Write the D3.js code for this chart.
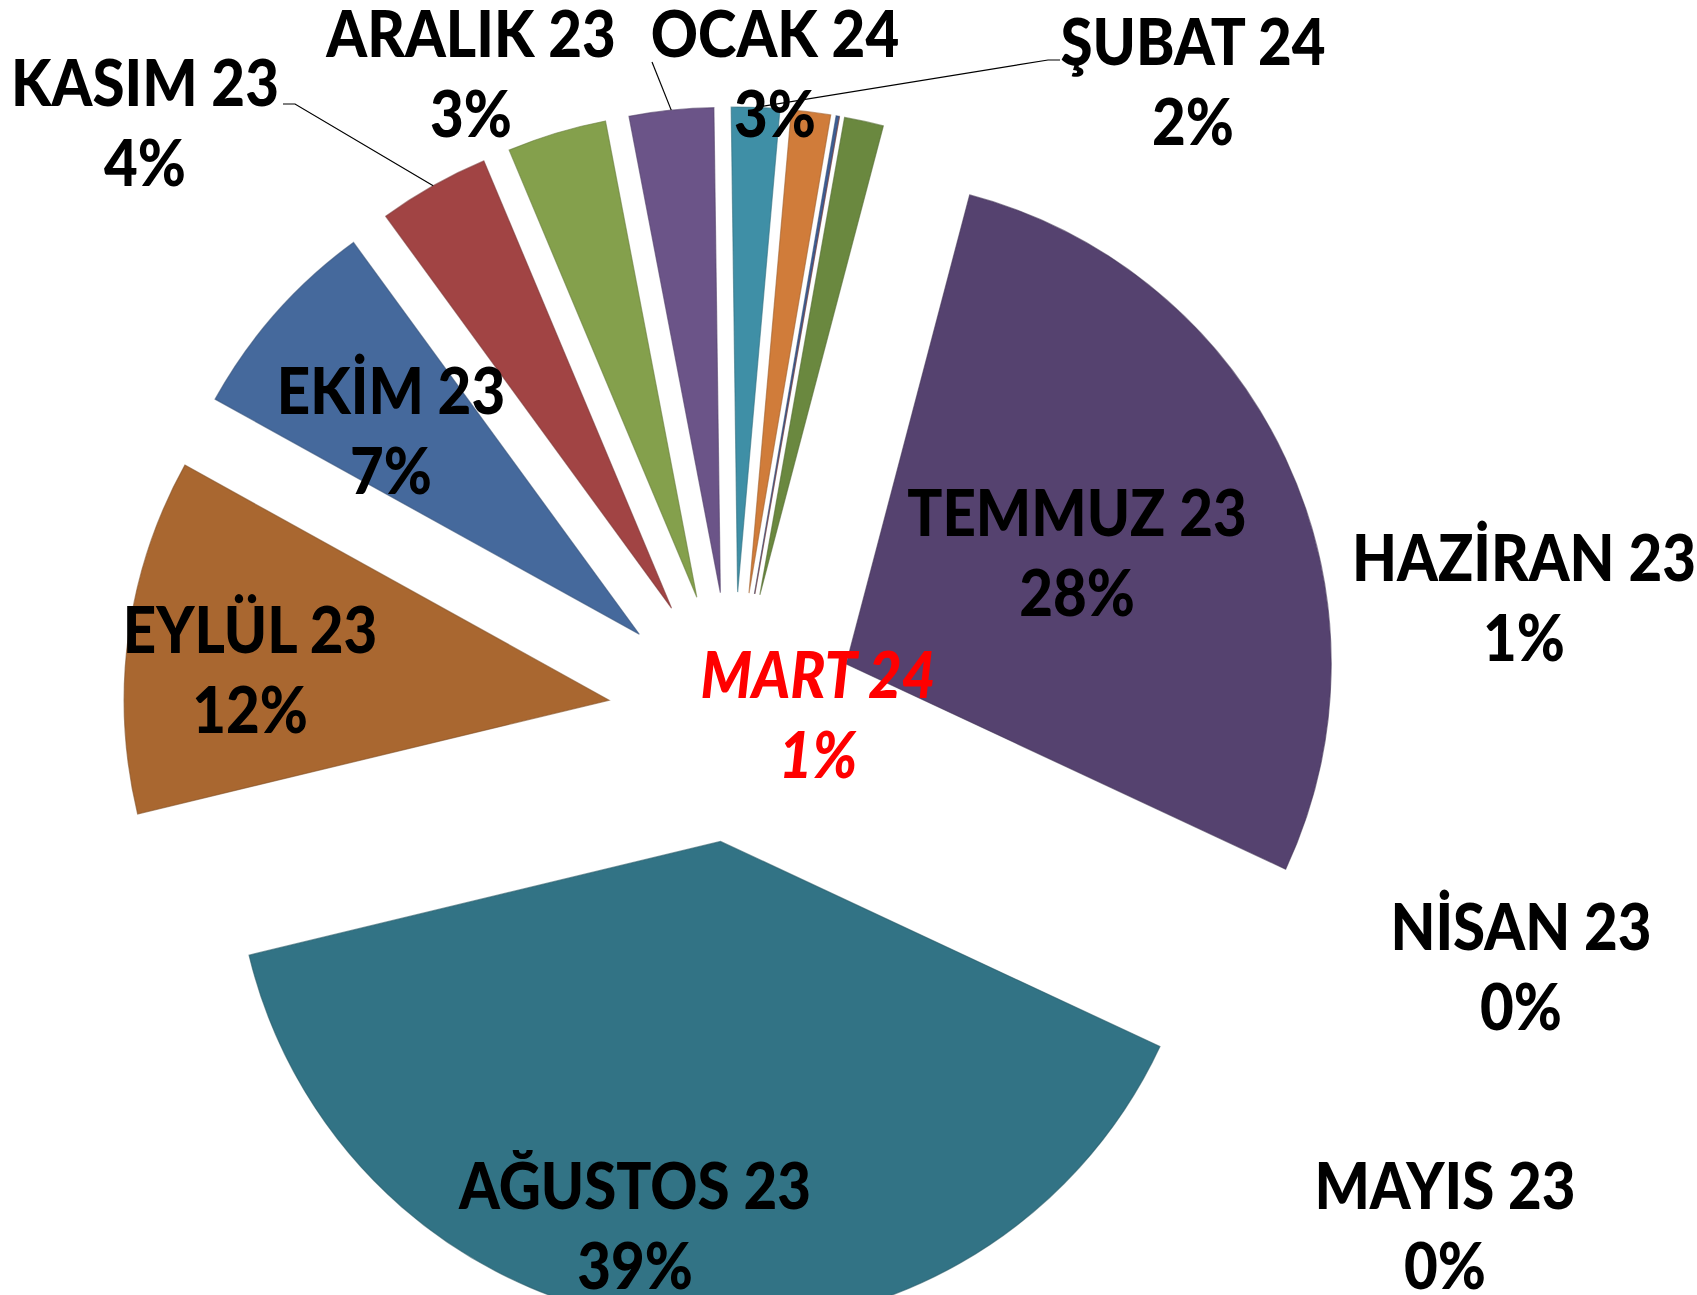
<!doctype html>
<html>
<head>
<meta charset="utf-8">
<style>
body { margin:0; background:#ffffff; }
.lbl { font-family: Lato, "Open Sans", sans-serif; font-weight:900; font-size:64px; fill:#000; }
.lbl.red { fill:#ff0000; font-style:italic; }
</style>
<script src="https://d3js.org/d3.v7.min.js"></script>
</head>
<body>
<script>
// monthly shares (%), clockwise from the top
var months = ["NİSAN 23","MAYIS 23","HAZİRAN 23","TEMMUZ 23","AĞUSTOS 23","EYLÜL 23",
              "EKİM 23","KASIM 23","ARALIK 23","OCAK 24","ŞUBAT 24","MART 24"];
var shares = [0.1, 0, 1.3, 27.8, 39.2, 11.8, 6.9, 3.7, 3.3, 2.8, 1.6, 1.3];
var colors = ["#3e5f95","#8c3836","#6a883f","#55426f","#327385","#a96730",
              "#45699c","#a14444","#84a04c","#6b5488","#3f8fa6","#d07c3a"];

// label placement (first baseline, centre x)
var labelAt = [[1521,950],[1445,1209],[1524,581],[1077,536],[635,1209],[250,653],
               [391,414],[145,106],[471,57],[775,57],[1193,65],[818,698]];
// leader lines: index -> start points near the label
var leaders = { 7: [[283,104],[295,104]], 9: [[652,62]], 10: [[1060,60],[1048,60]] };

var W = 1697, H = 1295;
var cx = 733, cy = 717, R = 485, explode = 125;
var start = 9.7 * Math.PI / 180;
var lineGap = 80, sx = 0.91;

var svg = d3.select("body").append("svg")
    .attr("width", W).attr("height", H);

var pie = d3.pie().sort(null).value(function(d){ return d; })
    .startAngle(start).endAngle(start + 2 * Math.PI);
var arcs = pie(shares);
var arc = d3.arc().innerRadius(0).outerRadius(R);

function offset(d, r) {
  var m = (d.startAngle + d.endAngle) / 2;
  return [r * Math.sin(m), -r * Math.cos(m)];
}

svg.selectAll("path.slice")
  .data(arcs)
  .enter()
  .append("path")
  .attr("class", "slice")
  .attr("transform", function(d){
     var o = offset(d, explode);
     return "translate(" + (cx + o[0]) + "," + (cy + o[1]) + ")";
  })
  .attr("d", arc)
  .attr("fill", function(d, i){ return colors[i]; })
  .attr("stroke", function(d, i){ return d3.color(colors[i]).darker(0.7); })
  .attr("stroke-width", 1.2)
  .attr("stroke-opacity", 0.6);

// leader lines end on the middle of the outer arc
var line = d3.line();
Object.keys(leaders).forEach(function(k){
  var d = arcs[k];
  var o = offset(d, explode), e = offset(d, R);
  var pts = leaders[k].concat([[cx + o[0] + e[0], cy + o[1] + e[1]]]);
  svg.append("path")
    .attr("d", line(pts))
    .attr("fill", "none")
    .attr("stroke", "#000")
    .attr("stroke-width", 1.2);
});

var total = d3.sum(shares);
var g = svg.selectAll("g.label")
  .data(arcs)
  .enter()
  .append("g")
  .attr("class", "label")
  .attr("transform", function(d, i){ return "translate(" + labelAt[i][0] + "," + labelAt[i][1] + ")"; });

g.each(function(d, i){
  var el = d3.select(this);
  var cls = i === 11 ? "lbl red" : "lbl";
  el.append("text").attr("class", cls)
    .attr("text-anchor", "middle")
    .attr("transform", "scale(" + sx + ",1)")
    .text(months[i]);
  el.append("text").attr("class", cls)
    .attr("text-anchor", "middle")
    .attr("transform", "translate(0," + lineGap + ") scale(" + sx + ",1)")
    .text(Math.round(d.data / total * 100) + "%");
});
</script>
</body>
</html>
